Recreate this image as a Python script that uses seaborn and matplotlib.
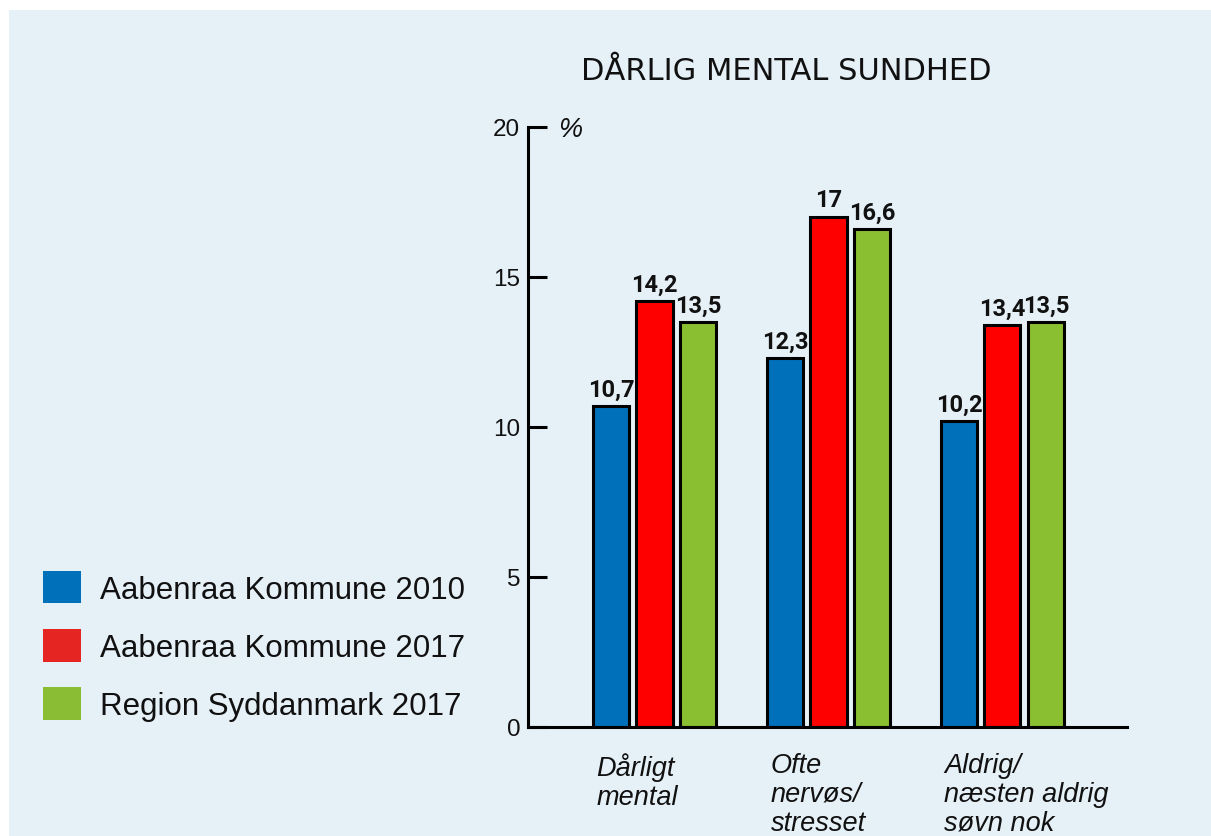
import matplotlib
matplotlib.use("Agg")
import matplotlib.pyplot as plt
import matplotlib.patches as mpatches
import matplotlib.transforms as mtransforms
import pandas as pd
import seaborn as sns

categories = ["Dårligt\nmental", "Ofte\nnervøs/\nstresset", "Aldrig/\nnæsten aldrig\nsøvn nok"]
series = ["Aabenraa Kommune 2010", "Aabenraa Kommune 2017", "Region Syddanmark 2017"]
aabenraa_2010 = [10.7, 12.3, 10.2]
aabenraa_2017 = [14.2, 17.0, 13.4]
region_2017 = [13.5, 16.6, 13.5]
value_labels = [["10,7", "12,3", "10,2"], ["14,2", "17", "13,4"], ["13,5", "16,6", "13,5"]]
bar_colors = ["#0070bb", "#ff0000", "#8abf32"]
legend_colors = ["#0070bb", "#e52521", "#8abc34"]
yticks = [0, 5, 10, 15, 20]

BG = "#e6f0f7"
LABEL_FONT = ["Liberation Sans", "DejaVu Sans"]

df = pd.DataFrame({
    "category": categories * 3,
    "series": [s for s in series for _ in categories],
    "value": aabenraa_2010 + aabenraa_2017 + region_2017,
})

sns.set_theme(style="white")
plt.rcParams["font.family"] = LABEL_FONT

W, H = 1211, 837
fig = plt.figure(figsize=(W / 100, H / 100), dpi=100, facecolor="white")
# light blue panel behind everything, leaving a thin white margin top and left
fig.patches.append(mpatches.Rectangle((9 / W, -0.01), 1.0, 1.01 - 11 / H,
                                      transform=fig.transFigure, facecolor=BG,
                                      edgecolor="none", zorder=-10))

ax = fig.add_axes([528 / W, 1 - 728 / H, (1127 - 528) / W, (728 - 128) / H])
ax.set_facecolor("none")

sns.barplot(data=df, x="category", y="value", hue="series", order=categories,
            hue_order=series, palette=bar_colors, width=0.75, gap=0.17,
            edgecolor="black", linewidth=2.2, saturation=1, legend=False, ax=ax)

for container, labels in zip(ax.containers, value_labels):
    ax.bar_label(container, labels=labels, padding=4, fontsize=17,
                 fontweight="bold", family=["Roboto", "DejaVu Sans"],
                 color="#111111")

ax.set_ylim(0, 20)
ax.set_xlim(-0.727, 2.716)
ax.set_yticks(yticks)
ax.set_yticklabels([str(t) for t in yticks], fontsize=17.5, color="#111111")
ax.tick_params(axis="y", direction="in", length=14, width=2.2, color="black",
               pad=5.5, left=True)
ax.tick_params(axis="x", length=0)
ax.set_xlabel("")
ax.set_ylabel("")

ax.set_xticks(range(len(categories)))
ax.set_xticklabels(categories, fontsize=19.5, style="italic", ha="left",
                   va="top", linespacing=1.15, color="#111111")
shift = mtransforms.ScaledTranslation(-58 / 100, -20 / 100, fig.dpi_scale_trans)
for lbl in ax.get_xticklabels():
    lbl.set_transform(lbl.get_transform() + shift)

for side in ["top", "right"]:
    ax.spines[side].set_visible(False)
for side in ["left", "bottom"]:
    ax.spines[side].set_linewidth(2.2)
    ax.spines[side].set_color("black")

ax.text(30 / 599, 0.997, "%", transform=ax.transAxes, fontsize=19.5,
        style="italic", ha="left", va="center", color="#111111")

fig.text(786 / W, 1 - 72 / H, "DÅRLIG MENTAL SUNDHED", ha="center",
         va="center", fontsize=22, family="DejaVu Sans", color="#111111")

handles = [mpatches.Patch(facecolor=c, edgecolor="none") for c in legend_colors]
fig.legend(handles, series, loc="upper left", bbox_to_anchor=(43 / W, 1 - 572 / H),
           frameon=False, fontsize=22.5, handlelength=1.22, handleheight=1.22,
           handletextpad=0.6, labelspacing=0.78, borderpad=0, borderaxespad=0,
           labelcolor="#111111")

fig.savefig("out.png", dpi=100, facecolor="white")
